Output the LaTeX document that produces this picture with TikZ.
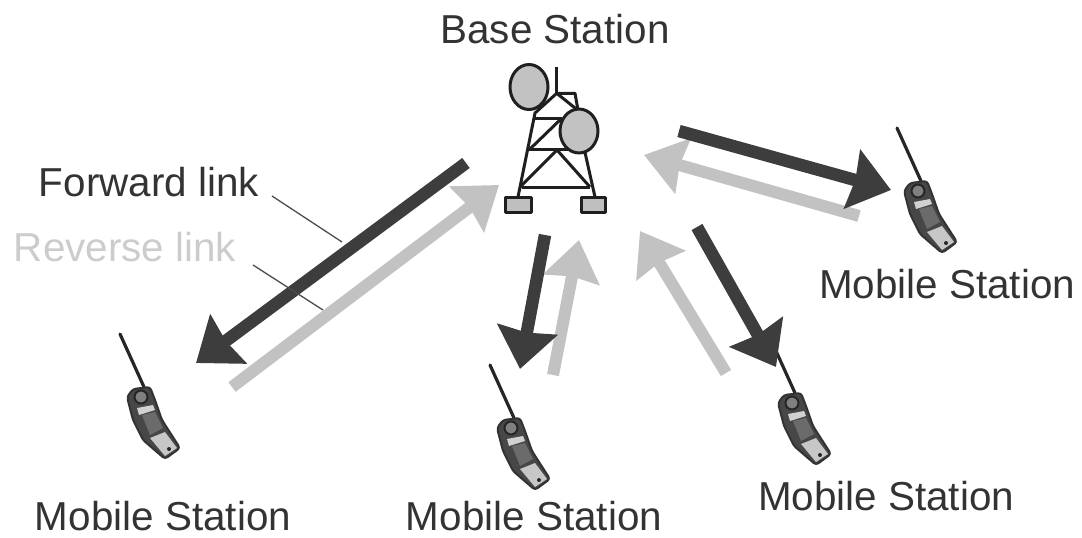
\documentclass[tikz,border=0pt]{standalone}
\usepackage{fontspec}
\setmainfont{Liberation Sans}
\usetikzlibrary{arrows.meta}
\definecolor{darkarrow}{gray}{0.24}
\definecolor{lightarrow}{gray}{0.76}
\definecolor{inktext}{gray}{0.2}
\tikzset{
  x=1pt,y=-1pt,
  label text/.style={font=\fontsize{40.4}{44}\selectfont,text=inktext,inner sep=0pt,anchor=center},
  pale text/.style={label text,text=gray!40},
  tower line/.style={draw=black!88,line width=3pt,line join=round},
  forward arrow/.style={draw=darkarrow,line width=12.5pt,-{Stealth[inset=3pt,length=40pt,width=60pt,fill=darkarrow]}},
  reverse arrow/.style={draw=lightarrow,line width=12pt,-{Stealth[inset=3pt,length=40pt,width=56pt,fill=lightarrow]}},
  leader/.style={draw=black!70,line width=1.3pt},
  phone/.pic={
    \draw[black!85,line width=3.2pt,line cap=round] (0,0) -- (24,53);
    \filldraw[draw=black!80,fill=black!72,line width=2pt,line join=round,rounded corners=3pt]
      (7,63) -- (13,55) -- (30,53) -- (35,66) -- (42,86) -- (60,114) -- (45,125) -- (23,106) -- (13,86) -- cycle;
    \filldraw[draw=black!85,fill=black!50,line width=2pt] (21,63) circle (6.5);
    \fill[black!18] (17,74) -- (33,71) -- (35,76) -- (19,81) -- cycle;
    \fill[black!58] (22,81) -- (35,78) -- (43,94) -- (30,101) -- cycle;
    \fill[black!22] (30,104) -- (45,98) -- (57,114) -- (45,122) -- cycle;
    \fill[black!85] (49,115) circle (2);
  }
}
\begin{document}
\begin{tikzpicture}
\useasboundingbox (0,0) rectangle (1082,538);
% tower
\begin{scope}[tower line]
  \draw (556.7,66.7) -- (556.7,93.3);
  \draw (518,197) -- (535,113) -- (556.7,93.3) -- (575,108) -- (595,197);
  \draw (556.7,93.3) -- (575,93.3) -- (578,110);
  \draw (533,118) -- (562,118);
  \draw (528,149) -- (587,149);
  \draw (522,187) -- (590,187);
  \draw (530,149) -- (562,118);
  \draw (520,187) -- (557,150) -- (590,187);
  \filldraw[fill=gray!50!white] (505.5,197.5) rectangle (531.5,212);
  \filldraw[fill=gray!50!white] (581,197.5) rectangle (605.5,212);
  \filldraw[fill=lightarrow] (529,87) ellipse [x radius=19,y radius=22.5];
  \filldraw[fill=lightarrow] (579,131) ellipse [x radius=19,y radius=22];
\end{scope}
% phones
\pic (phoneA) at (120,334) {phone};
\pic (phoneB) at (490,365) {phone};
\pic (phoneC) at (771,340) {phone};
\pic (phoneD) at (897,128) {phone};
% labels
\node[label text] (base) at (555,29) {Base Station};
\node[label text] (msD) at (947,284) {Mobile Station};
\node[label text] (msA) at (163,516) {Mobile Station};
\node[label text] (msB) at (534,516.5) {Mobile Station};
\node[label text] (msC) at (886,496) {Mobile Station};
\node[label text] (fwd) at (149,182) {Forward link};
\node[pale text] (rev) at (125,247) {Reverse link};
% arrow ends
\coordinate (r1s) at (232,387); \coordinate (r1e) at (499,185);
\coordinate (r2s) at (553,375); \coordinate (r2e) at (579,240);
\coordinate (r3s) at (726,373); \coordinate (r3e) at (640,231);
\coordinate (r4s) at (859,216); \coordinate (r4e) at (644,155);
\coordinate (f1s) at (466,163); \coordinate (f1e) at (196,363);
\coordinate (f2s) at (545,235); \coordinate (f2e) at (520,369);
\coordinate (f3s) at (697,227); \coordinate (f3e) at (776,367);
\coordinate (f4s) at (679,131); \coordinate (f4e) at (891,190);
\draw[reverse arrow] (r1s) -- (r1e);
\draw[reverse arrow] (r2s) -- (r2e);
\draw[reverse arrow] (r3s) -- (r3e);
\draw[reverse arrow] (r4s) -- (r4e);
\draw[forward arrow] (f1s) -- (f1e);
\draw[forward arrow] (f2s) -- (f2e);
\draw[forward arrow] (f3s) -- (f3e);
\draw[forward arrow] (f4s) -- (f4e);
% leaders
\coordinate (lf1) at (272,196); \coordinate (lf2) at (342,242);
\coordinate (lr1) at (253,265); \coordinate (lr2) at (323,310);
\draw[leader] (lf1) -- (lf2);
\draw[leader] (lr1) -- (lr2);
\end{tikzpicture}
\end{document}
